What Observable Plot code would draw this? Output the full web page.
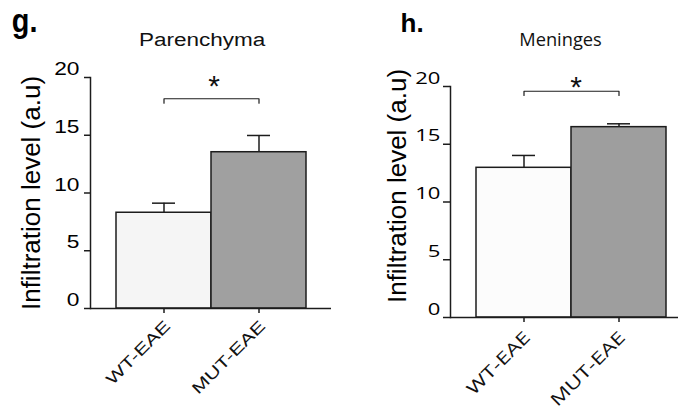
<!DOCTYPE html>
<html><head><meta charset="utf-8">
<script src="https://cdn.jsdelivr.net/npm/d3@7"></script>
<script src="https://cdn.jsdelivr.net/npm/@observablehq/plot@0.6"></script>
<style>
body{margin:0;background:#fff;}
#wrap{position:relative;width:679px;height:408px;overflow:hidden;background:#fff}
.panel{position:absolute;top:0}
</style></head><body>
<div id="wrap"><div class="panel" id="pg" style="left:0"></div><div class="panel" id="ph" style="left:340px"></div></div>
<script>
// ---- data ----
const groups = ["WT-EAE", "MUT-EAE"];
const parenchymaMean = [8.29, 13.53];
const parenchymaSEM = [0.83, 1.45];
const meningesMean = [12.96, 16.48];
const meningesSEM = [1.07, 0.29];
const yTicks = [0, 5, 10, 15, 20];
const panelLetters = ["g.", "h."];
const panelTitles = ["Parenchyma", "Meninges"];
const yLabel = "Infiltration level (a.u)";
const significance = ["*", "*"];
const bracketLevel = [18.16, 19.59];
const bracketDrop = [0.38, 0.37];

// ---- styling ----
const ink = "#1c1c1c";

function stretchWhere(svg, test, sx, size) {
  svg.querySelectorAll("text").forEach(t => {
    if (!test(t.textContent)) return;
    let tr = t.getAttribute("transform") || "";
    const x = t.getAttribute("x"), y = t.getAttribute("y");
    if (x != null || y != null) {
      tr += ` translate(${+x || 0},${+y || 0})`;
      t.removeAttribute("x"); t.removeAttribute("y");
    }
    t.setAttribute("transform", tr + ` scale(${sx},1)`);
    if (size) t.style.fontSize = size + "px";
  });
}

function panel(cfg) {
  const data = groups.map((g, i) => ({group: g, mean: cfg.mean[i], sem: cfg.sem[i]}));
  const bracket = [
    {group: groups[0], y: cfg.bracket - cfg.drop},
    {group: groups[0], y: cfg.bracket},
    {group: groups[1], y: cfg.bracket},
    {group: groups[1], y: cfg.bracket - cfg.drop}
  ];
  const svg = Plot.plot({
    width: cfg.width, height: 408,
    marginLeft: cfg.ml, marginRight: cfg.mr, marginTop: cfg.mt, marginBottom: cfg.mb,
    style: {background: "transparent", color: ink, fontFamily: cfg.font, overflow: "visible"},
    x: {domain: groups, paddingInner: 0, paddingOuter: cfg.po, align: cfg.align, label: null},
    y: {domain: [0, 20], label: null},
    color: {domain: groups, range: cfg.fills},
    marks: [
      Plot.ruleX(data, {x: "group", y1: "mean", y2: d => d.mean + d.sem, stroke: ink, strokeWidth: 1.5}),
      Plot.tickY(data, {x: "group", y: d => d.mean + d.sem, stroke: ink, strokeWidth: 1.5, insetLeft: 36, insetRight: 36}),
      Plot.barY(data, {x: "group", y: "mean", fill: "group", stroke: ink, strokeWidth: 1.5}),
      Plot.ruleY([0], {stroke: ink, strokeWidth: 1.5}),
      Plot.frame({anchor: "left", stroke: ink, strokeWidth: 1.5}),
      Plot.axisY({ticks: yTicks, tickSize: cfg.yTickSize, tickFormat: () => "", strokeWidth: 1.5, stroke: ink}),
      Plot.axisY({ticks: yTicks, tickSize: 0, tickPadding: cfg.yTickSize + cfg.yPad, dy: cfg.yDy,
        fontSize: cfg.tickFontSize, fontFamily: cfg.font, fill: "#000"}),
      Plot.axisX({tickSize: 5, tickFormat: () => "", strokeWidth: 1.5, stroke: ink}),
      Plot.text(groups, {x: d => d, frameAnchor: "bottom", rotate: -45, textAnchor: "end", lineAnchor: "middle",
        dx: cfg.xdx, dy: cfg.xdy, fontSize: cfg.xFontSize, fontFamily: cfg.font, fill: "#111"}),
      Plot.line(bracket, {x: "group", y: "y", stroke: ink, strokeWidth: 1.2}),
      Plot.text([{group: groups[0], y: cfg.bracket, s: cfg.sig}], {x: "group", y: "y", text: "s", dx: cfg.starDx, dy: cfg.starDy,
        lineAnchor: "bottom", fontSize: 30, fontFamily: "Liberation Sans", fill: "#111"}),
      Plot.text([cfg.title], {frameAnchor: "top", dx: cfg.tdx, dy: cfg.tdy, lineAnchor: "bottom",
        fontSize: cfg.titleSize, fontFamily: cfg.font, fill: "#111"}),
      Plot.text([cfg.letter], {frameAnchor: "top-left", textAnchor: "start", lineAnchor: "bottom", dx: cfg.ldx, dy: cfg.ldy,
        fontSize: cfg.letterSize, fontWeight: "bold", fontFamily: "Liberation Sans", fill: "#000"}),
      Plot.text([yLabel], {frameAnchor: "left", rotate: -90, textAnchor: "middle", lineAnchor: "middle", dx: cfg.ydx, dy: cfg.ydy,
        fontSize: 26, fontFamily: "Liberation Sans", fill: "#000"})
    ]
  });
  const tickStrings = yTicks.map(String);
  stretchWhere(svg, s => tickStrings.includes(s), cfg.tickStretch, cfg.tickFontSize);
  stretchWhere(svg, s => groups.includes(s), cfg.xStretch, cfg.xFontSize);
  stretchWhere(svg, s => s === cfg.title, cfg.titleStretch, cfg.titleSize);
  stretchWhere(svg, s => s === cfg.letter, cfg.letterStretch, cfg.letterSize);
  return svg;
}

document.getElementById("pg").append(panel({
  width: 340, ml: 90, mr: 9, mt: 77, mb: 100, po: 0.258, align: 0.5,
  mean: parenchymaMean, sem: parenchymaSEM, bracket: bracketLevel[0], drop: bracketDrop[0], sig: significance[0],
  fills: ["#f5f5f5", "#a0a0a0"], font: "Liberation Sans",
  yTickSize: 6, yPad: 5, yDy: -2.5, tickFontSize: 17.5, tickStretch: 1.3,
  xFontSize: 15.8, xStretch: 1.37, xdx: 7.2, xdy: 18.5,
  starDx: 50, starDy: -3,
  title: panelTitles[0], titleSize: 18, titleStretch: 1.25, tdx: -8.8, tdy: -31.3,
  letter: panelLetters[0], letterSize: 34, letterStretch: 0.85, ldx: -78.7, ldy: -45.3,
  ydx: -59, ydy: 0
}));
document.getElementById("ph").append(panel({
  width: 339, ml: 110, mr: 1, mt: 86, mb: 91, po: 0.19, align: 0.69,
  mean: meningesMean, sem: meningesSEM, bracket: bracketLevel[1], drop: bracketDrop[1], sig: significance[1],
  fills: ["#fcfcfc", "#9e9e9e"], font: "Open Sans",
  yTickSize: 7, yPad: 3, yDy: -3, tickFontSize: 17, tickStretch: 1.3,
  xFontSize: 17, xStretch: 1.35, xdx: 7.3, xdy: 21,
  starDx: 52, starDy: 5.6,
  title: panelTitles[1], titleSize: 17.4, titleStretch: 1.05, tdx: -4, tdy: -40.3,
  letter: panelLetters[1], letterSize: 26, letterStretch: 1, ldx: -50, ldy: -54.3,
  ydx: -53, ydy: -16
}));
</script>
</body></html>
